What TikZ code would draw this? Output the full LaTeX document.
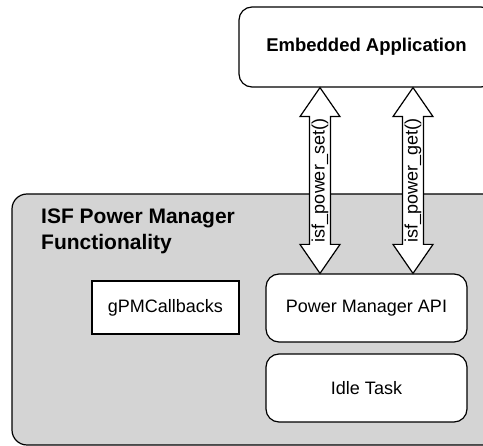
\documentclass[tikz,border=0pt]{standalone}
\usepackage{fontspec}
\setmainfont{Liberation Sans}
\usetikzlibrary{calc}
\definecolor{panel}{RGB}{212,212,212}
\tikzset{
  box/.style={draw=black, line width=1.2pt, fill=white, inner sep=0pt, align=center,
              font=\fontsize{18}{21}\selectfont},
  roundbox/.style={box, rounded corners=13pt},
  panelbox/.style={draw=black, line width=1.2pt, fill=panel, rounded corners=15pt},
  paneltitle/.style={font=\bfseries\fontsize{21}{26}\selectfont, align=left, inner sep=0pt},
  blockarr/.style={draw=black, line width=1.2pt, fill=white, line join=miter},
  arrlabel/.style={font=\fontsize{18}{21}\selectfont, inner sep=0pt, rotate=90},
}
% double-headed block arrow between two tip points, with a label along the shaft
\newcommand\blockarrow[3]{%
  \draw[blockarr] (#1) -- ++(20,29) -- ++(-9.5,0) -- ($(#2)+(10.5,-29)$) -- ++(9.5,0)
    -- (#2) -- ++(-20,-29) -- ++(9.5,0) -- ($(#1)+(-10.5,29)$) -- ++(-9.5,0) -- cycle;
  \node[arrlabel] at ($(#1)!0.5!(#2)$) {#3};}
\begin{document}
\begin{tikzpicture}[x=1pt,y=-1pt]
\useasboundingbox (0,0) rectangle (483,446);
\clip (0,0) rectangle (483,446);

% grey panel holding the power manager parts
\draw[panelbox] (12,194) rectangle (505,445);
\node[paneltitle, anchor=north west] (title) at (41,209) {ISF Power Manager\\Functionality};

% boxes
\node[roundbox, font=\bfseries\fontsize{18.5}{22}\selectfont,
      minimum width=255pt, minimum height=80pt] (app) at (366.5,47) {Embedded Application};
\node[box, minimum width=147pt, minimum height=53pt] (cb) at (165.5,307.5) {gPMCallbacks};
\node[roundbox, minimum width=201pt, minimum height=68pt] (api) at (366.5,308) {Power Manager API};
\node[roundbox, minimum width=201pt, minimum height=68pt] (idle) at (366.5,388) {Idle Task};

% API calls between the application and the power manager
\coordinate (setx) at (320,0);
\coordinate (getx) at (413,0);
\coordinate (setTop) at (setx |- app.south);
\coordinate (setBot) at (setx |- api.north);
\coordinate (getTop) at (getx |- app.south);
\coordinate (getBot) at (getx |- api.north);
\blockarrow{setTop}{setBot}{isf\_power\_set()}
\blockarrow{getTop}{getBot}{isf\_power\_get()}
\end{tikzpicture}
\end{document}
